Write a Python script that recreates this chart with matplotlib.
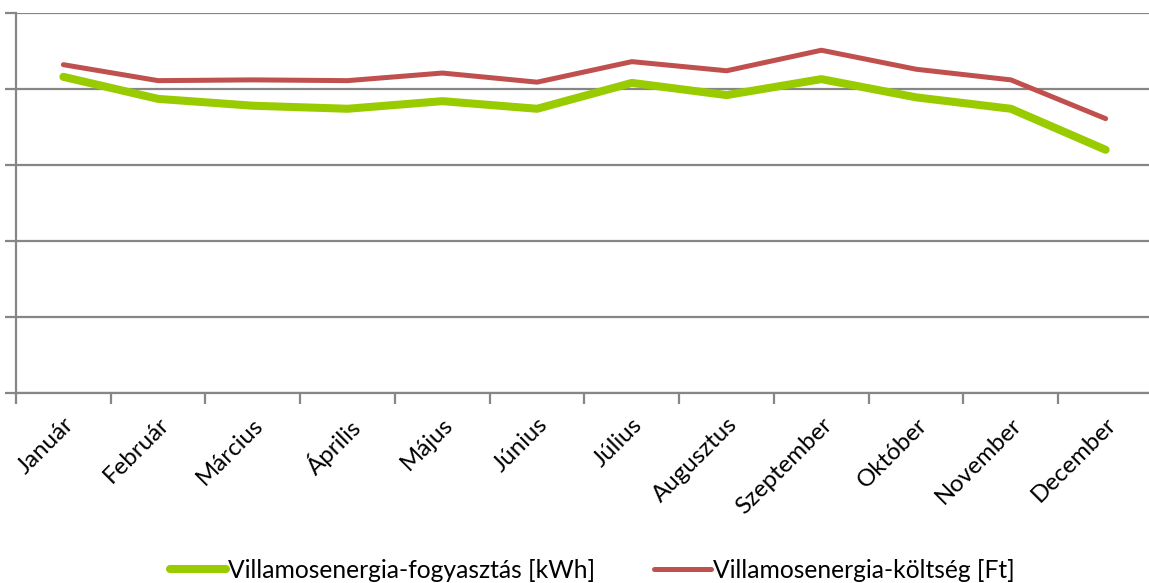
import numpy as np
import matplotlib
matplotlib.use("Agg")
import matplotlib.pyplot as plt
from matplotlib.ticker import MultipleLocator

plt.rcParams["font.family"] = ["Lato", "DejaVu Sans"]

months = ["Január", "Február", "Március", "Április", "Május", "Június",
          "Július", "Augusztus", "Szeptember", "Október", "November", "December"]
consumption = [4.16, 3.87, 3.78, 3.74, 3.84, 3.74, 4.08, 3.92, 4.13, 3.89, 3.74, 3.20]
cost = [4.32, 4.11, 4.12, 4.11, 4.21, 4.09, 4.36, 4.24, 4.51, 4.26, 4.12, 3.61]

green = "#99CC00"
red = "#C0504D"
grid = "#868686"

fig = plt.figure(figsize=(11.49, 5.83), dpi=100)
ax = fig.add_axes([16 / 1149, 1 - 393 / 583, 1137 / 1149, 380 / 583])

x = np.arange(len(months))
ax.plot(x, consumption, color=green, lw=5.8, solid_capstyle="round",
        solid_joinstyle="round", label="Villamosenergia-fogyasztás [kWh]")
ax.plot(x, cost, color=red, lw=3.6, solid_capstyle="round",
        solid_joinstyle="round", label="Villamosenergia-költség [Ft]")

ax.set_xlim(-0.5, 11.5)
ax.set_ylim(0, 5)
ax.yaxis.set_major_locator(MultipleLocator(1))
ax.set_yticklabels([])
ax.grid(axis="y", color=grid, lw=1.6)
ax.set_axisbelow(True)

ax.set_xticks(x)
ax.set_xticklabels(months, rotation=45, ha="right", rotation_mode="anchor",
                   fontsize=17.3)
ax.tick_params(axis="x", which="major", length=0, pad=15)
ax.set_xticks(np.arange(-0.5, 12, 1), minor=True)
ax.tick_params(axis="x", which="minor", length=8, width=1.6, color=grid,
               direction="out")
ax.tick_params(axis="y", length=8, width=1.6, color=grid, direction="out")

for s in ["top", "right"]:
    ax.spines[s].set_visible(False)
for s in ["left", "bottom"]:
    ax.spines[s].set_color(grid)
    ax.spines[s].set_linewidth(1.6)

leg = fig.legend(loc="center", bbox_to_anchor=(592 / 1149, 1 - 570 / 583), ncol=2,
                 frameon=False, fontsize=17.7, handlelength=2.3,
                 handletextpad=0.08, columnspacing=2.4)

fig.savefig("out.png", dpi=100)
